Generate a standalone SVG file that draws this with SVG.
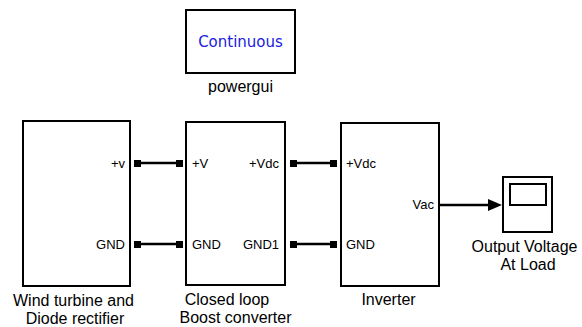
<svg xmlns="http://www.w3.org/2000/svg" width="582" height="327" viewBox="0 0 582 327">
<style>
.blk{fill:#fff;stroke:#000;stroke-width:2}
.lbl{font-family:"Liberation Sans",Arial,sans-serif;font-size:16px;fill:#000;text-anchor:middle}
.port{font-family:"Liberation Sans",Arial,sans-serif;font-size:13px;fill:#000}
.conn{stroke:#000;stroke-width:2.5;fill:none}
.sq{fill:#000}
</style>
<rect width="582" height="327" fill="#fff"/>
<g id="powergui">
<rect class="blk" x="186" y="10" width="109" height="63"/>
<text x="240.5" y="47" font-family="'DejaVu Sans',Verdana,sans-serif" font-size="15" fill="#2020e0" text-anchor="middle">Continuous</text>
<text class="lbl" x="240.5" y="92">powergui</text>
</g>
<g id="wind">
<rect class="blk" x="23" y="121" width="107" height="165"/>
<text class="port" x="125" y="168" text-anchor="end">+v</text>
<text class="port" x="125" y="249" text-anchor="end">GND</text>
<text class="lbl" x="73.5" y="306">Wind turbine and</text>
<text class="lbl" x="75" y="324">Diode rectifier</text>
</g>
<g id="boost">
<rect class="blk" x="186" y="122" width="99" height="163"/>
<text class="port" x="192" y="168">+V</text>
<text class="port" x="192" y="249">GND</text>
<text class="port" x="279" y="168" text-anchor="end">+Vdc</text>
<text class="port" x="279" y="249" text-anchor="end">GND1</text>
<text class="lbl" x="227" y="305">Closed loop</text>
<text class="lbl" x="235.5" y="323">Boost converter</text>
</g>
<g id="inverter">
<rect class="blk" x="341" y="123" width="98" height="163"/>
<text class="port" x="346" y="168">+Vdc</text>
<text class="port" x="346" y="249">GND</text>
<text class="port" x="434" y="209" text-anchor="end">Vac</text>
<text class="lbl" x="388.5" y="305">Inverter</text>
</g>
<g id="scope">
<rect class="blk" x="503" y="177" width="49" height="55"/>
<rect x="510" y="184" width="36" height="21" fill="#fff" stroke="#000" stroke-width="2"/>
<text class="lbl" x="524.5" y="252">Output Voltage</text>
<text class="lbl" x="528" y="270">At Load</text>
</g>
<g id="connectors">
<line class="conn" x1="140" y1="163" x2="176" y2="163"/>
<rect class="sq" x="134" y="160" width="7" height="7"/>
<rect class="sq" x="176" y="160" width="7" height="7"/>
<line class="conn" x1="140" y1="244" x2="176" y2="244"/>
<rect class="sq" x="134" y="241" width="7" height="7"/>
<rect class="sq" x="176" y="241" width="7" height="7"/>
<line class="conn" x1="296" y1="163" x2="331" y2="163"/>
<rect class="sq" x="290" y="160" width="7" height="7"/>
<rect class="sq" x="330" y="160" width="7" height="7"/>
<line class="conn" x1="296" y1="244" x2="331" y2="244"/>
<rect class="sq" x="290" y="241" width="7" height="7"/>
<rect class="sq" x="330" y="241" width="7" height="7"/>
<line class="conn" x1="440" y1="205" x2="490" y2="205"/>
<polygon points="488,199 502,205 488,211" fill="#000"/>
</g>
</svg>
